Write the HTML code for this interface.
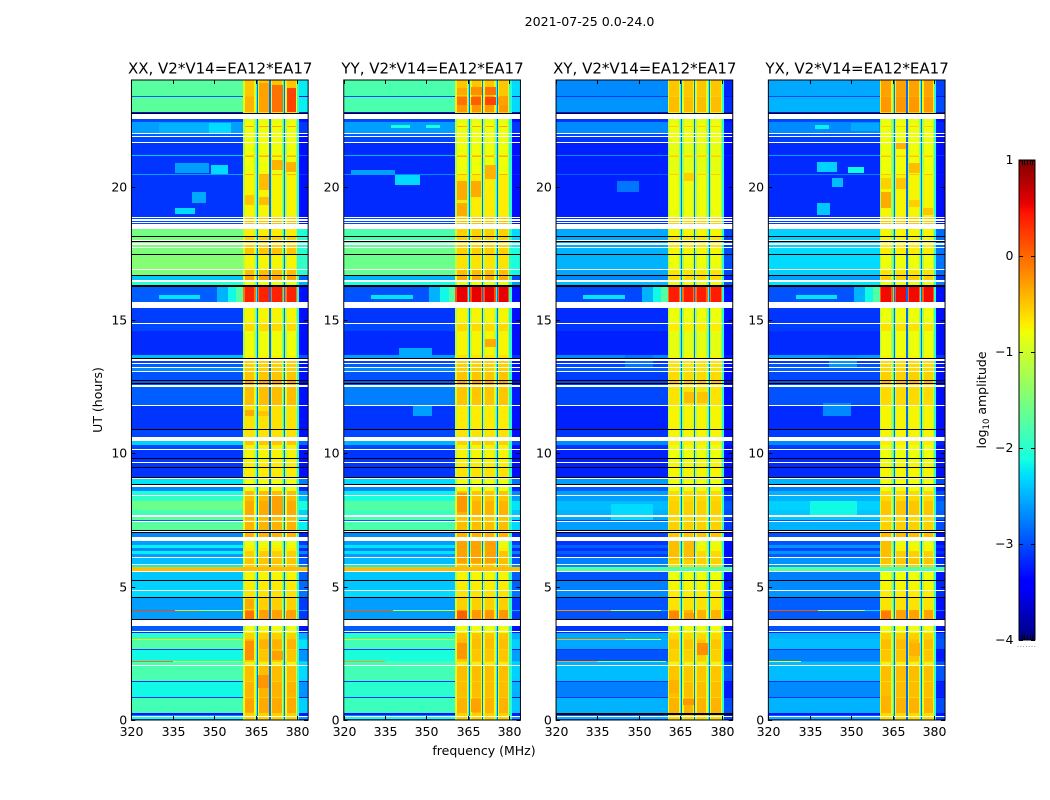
<!DOCTYPE html>
<html lang="en">
<head>
<meta charset="utf-8">
<title>2021-07-25 0.0-24.0</title>
<style>
html,body{margin:0;padding:0;background:#fff}
svg{display:block}
text{font-family:"DejaVu Sans","Liberation Sans",sans-serif;fill:#000}
</style>
</head>
<body>
<svg id="figure" xmlns="http://www.w3.org/2000/svg" width="1050" height="800" viewBox="0 0 1050 800">
  <text x="589.5" y="26" font-size="12.6" text-anchor="middle">2021-07-25 0.0-24.0</text>
  <text x="484" y="755" font-size="12.5" text-anchor="middle">frequency (MHz)</text>
  <text transform="translate(102 400) rotate(-90)" font-size="12.5" text-anchor="middle">UT (hours)</text>
  <text transform="translate(986 400) rotate(-90)" font-size="12.5" text-anchor="middle">log<tspan font-size="8.5" dy="3">10</tspan><tspan dy="-3"> amplitude</tspan></text>
  <g id="panels"></g>
  <g id="colorbar"></g>
</svg>
<script>
const W = null; // flagged, no data: paints white
const K = -9;   // below scale: paints black

const panelTitles = ['XX, V2*V14=EA12*EA17', 'YY, V2*V14=EA12*EA17', 'XY, V2*V14=EA12*EA17', 'YX, V2*V14=EA12*EA17'];
const freqTicks = [320, 335, 350, 365, 380];
const hourTicks = [0, 5, 10, 15, 20];
const colorTicks = [1, 0, -1, -2, -3, -4];

// upper hour of each time band; each band runs down to the next entry
const rowTop = [
24,23.4,23.363,22.8,22.763,22.725,22.538,22.425,22.275,22.238,
22.013,21.975,21.9,21.863,21.675,21.638,21.188,21.15,21.113,20.475,
20.438,18.863,18.825,18.788,18.713,18.675,18.638,18.6,18.413,18.15,
18.113,18,17.963,17.925,17.888,17.813,17.738,17.7,17.475,17.438,
16.913,16.875,16.688,16.65,16.5,16.425,16.313,16.238,15.675,15.45,
14.888,14.85,14.588,13.688,13.575,13.538,13.463,13.388,13.35,13.238,
13.2,13.088,13.05,12.75,12.713,12.638,12.6,12.563,12.488,11.813,
11.775,10.913,10.875,10.613,10.463,10.313,10.163,10.125,9.825,9.788,
9.675,9.638,9.488,9.45,9.113,9.075,9.038,8.85,8.813,8.738,
8.588,8.438,8.4,8.213,7.875,7.688,7.613,7.5,7.463,7.425,
7.125,7.088,7.05,7.013,6.863,6.713,6.563,6.45,6.338,6.225,
6.113,6.075,5.85,5.813,5.738,5.588,5.55,5.25,5.213,4.875,
4.838,4.613,4.575,4.125,4.088,3.788,3.75,3.525,3.338,3.3,
3.263,3.038,3,2.663,2.625,2.213,2.175,2.063,2.025,1.463,
1.425,.863,.825,.263,.188,.15,.113,.038];

// log10 amplitude of the out-of-band floor (320-360 MHz), per band
const xxFloor = [
-1.72,-2.8,-1.7,-3.2,K,W,-2.9,-2.6,-2.6,-2.6,
W,-2.8,W,-2.9,W,-3,-2.4,-3,-3,-2.6,
-3,W,-2.9,W,-2.9,W,-2.9,W,-1.55,K,
-1.5,W,K,-1.5,W,-1.5,W,-1.5,K,-1.45,
W,-1.5,K,-2.4,W,-2,K,-2.8,W,-2.95,
W,-2.9,-3.05,-2.45,K,W,-2.9,W,-2.8,W,
-2.7,W,-2.85,K,-2.8,K,-2.8,W,-2.8,W,
-3,K,-2.9,W,-2.35,-2.9,W,-3,K,-3,
W,-3,K,-3,K,W,-2.25,K,W,-2.7,
-2.1,W,-1.95,-1.6,-1.85,W,-1.7,-2.8,W,-1.7,
K,W,K,-2.7,W,-2.6,-2.2,-2.7,-2.2,-2.6,
W,-2.45,W,-2.2,-.45,W,-2.4,K,-2.35,W,
-2.3,K,-2.6,-2,-2.6,K,W,-2.8,W,-3.1,
-2,-1.9,-1.75,-3,-2.15,-1.9,-1.8,W,-1.8,-3,
-2.15,-3,-1.85,-3.2,-2.7,W,-2.1,-2.8];
const yyFloor = [
-1.8,-2.9,-1.8,-3.2,K,W,-2.9,-2.6,-2.6,-2.6,
W,-2.8,W,-2.9,W,-3.05,-2.5,-3.05,-3.05,-2.7,
-3.05,W,-2.9,W,-2.9,W,-2.9,W,-1.8,K,
-1.8,W,K,-1.7,W,-1.7,W,-1.6,K,-1.6,
W,-1.65,K,-2.5,W,-2.1,K,-2.85,W,-3,
W,-2.9,-3.05,-2.6,K,W,-2.9,W,-2.8,W,
-2.7,W,-2.85,K,-2.8,K,-2.8,W,-2.75,W,
-3,K,-2.9,W,-2.5,-2.9,W,-3,K,-3,
W,-3,K,-3,K,W,-2.3,K,W,-2.7,
-2.2,W,-2.1,-1.75,-1.9,W,-1.8,-2.8,W,-1.8,
K,W,K,-2.7,W,-2.6,-2.25,-2.7,-2.25,-2.6,
W,-2.45,W,-2.2,-.45,W,-2.4,K,-2.4,W,
-2.3,K,-2.6,-2,-2.6,K,W,-2.8,W,-3.1,
-2,-1.9,-1.85,-3,-2.1,-1.9,-1.85,W,-1.85,-3,
-2,-3,-1.9,-3.2,-2.7,W,-2.1,-2.8];
const xyFloor = [
-2.7,-3,-2.65,-3.2,K,W,-3,-2.7,-2.7,-2.7,
W,-2.9,W,-3,W,-3.1,-2.7,-3.1,-3.1,-2.8,
-3.1,W,-3,W,-3,W,-3,W,-2.55,K,
-2.55,W,K,-2.55,W,-2.55,W,-2.5,K,-2.5,
W,-2.55,K,-2.7,W,-2.45,K,-2.9,W,-3.05,
W,-3,-3.1,-2.7,K,W,-3,W,-2.9,W,
-2.8,W,-2.95,K,-2.9,K,-2.9,W,-2.9,W,
-3.1,K,-3,W,-2.7,-3,W,-3.1,K,-3.1,
W,-3.1,K,-3.1,K,W,-2.6,K,W,-2.8,
-2.6,W,-2.6,-2.45,-2.5,W,-2.55,-2.9,W,-2.6,
K,W,K,-2.9,W,-3,-2.8,-3,-2.8,-2.95,
W,-2.75,W,-2.7,-1.75,W,-2.85,K,-2.75,W,
-2.7,K,-2.85,-2.5,-2.85,K,W,-3,W,-3.1,
-2.55,-2.5,-2.55,-3,-2.85,-2.7,-2.5,W,-2.45,-3,
-2.75,-3,-2.5,K,-2.8,W,-2.5,-2.9];
const yxFloor = [
-2.55,-2.9,-2.5,-3.2,K,W,-2.9,-2.7,-2.7,-2.7,
W,-2.85,W,-2.95,W,-3.05,-2.6,-3.05,-3.05,-2.75,
-3.05,W,-2.95,W,-2.95,W,-2.95,W,-2.35,K,
-2.35,W,K,-2.35,W,-2.35,W,-2.3,K,-2.3,
W,-2.35,K,-2.6,W,-2.25,K,-2.85,W,-3,
W,-2.95,-3.05,-2.6,K,W,-2.95,W,-2.85,W,
-2.8,W,-2.9,K,-2.85,K,-2.85,W,-2.85,W,
-3.05,K,-2.95,W,-2.7,-2.95,W,-3.05,K,-3.05,
W,-3.05,K,-3.05,K,W,-2.5,K,W,-2.75,
-2.5,W,-2.5,-2.35,-2.4,W,-2.4,-2.85,W,-2.5,
K,W,K,-2.85,W,-2.85,-2.65,-2.9,-2.65,-2.8,
W,-2.65,W,-2.6,-1.75,W,-2.75,K,-2.7,W,
-2.65,K,-2.8,-2.3,-2.8,K,W,-2.85,W,-3.1,
-2.5,-2.45,-2.45,-3,-2.75,-2.6,-2.45,W,-2.45,-3,
-2.7,-3,-2.5,-3.2,-2.8,W,-2.5,-2.85];

// log10 amplitude inside the four passband blocks, per band
const xxBlock = [
-.55,-.5,-.45,-.7,K,W,-.9,-.85,-.4,-.85,
W,-.85,W,-.85,W,-.85,-.6,-.45,-.85,-.45,
-.8,W,-.5,W,-.5,W,-.5,W,-.75,K,
-.6,W,K,-.6,W,-.6,W,-.55,K,-.8,
W,-.5,K,-.35,W,-.9,K,.32,W,-.8,
W,-.65,-.85,-.8,K,W,-.6,W,-.6,W,
-.6,W,-.55,K,-.35,K,-.5,W,-.5,W,
-.7,K,-.7,W,-.55,-.8,W,-.8,K,-.8,
W,-.75,K,-.75,K,W,-.85,K,W,-.85,
-.5,W,-.5,-.4,-.4,W,-.5,-.6,W,-.45,
K,W,K,-.45,W,-.9,-.8,-.75,-.6,-.6,
W,-.55,W,-.6,-.45,W,-.8,K,-.75,W,
-.7,K,-.6,-.35,-.35,K,W,-.85,W,-.85,
-.6,-.5,-.45,-.6,-.55,-.6,-.8,W,-.5,-.6,
-.45,-.6,-.4,-.6,-.6,W,-.6,-.6];
const yyBlock = [
-.55,-.35,-.3,-.6,K,W,-.9,-.85,-.4,-.85,
W,-.85,W,-.85,W,-.85,-.6,-.45,-.85,-.45,
-.75,W,-.5,W,-.5,W,-.5,W,-.6,K,
-.6,W,K,-.6,W,-.6,W,-.6,K,-.7,
W,-.5,K,-.4,W,-.9,K,.5,W,-.8,
W,-.65,-.8,-.7,K,W,-.6,W,-.6,W,
-.6,W,-.55,K,-.35,K,-.5,W,-.55,W,
-.75,K,-.7,W,-.6,-.8,W,-.8,K,-.8,
W,-.75,K,-.7,K,W,-.85,K,W,-.85,
-.55,W,-.55,-.45,-.45,W,-.55,-.6,W,-.5,
K,W,K,-.45,W,-.9,-.8,-.75,-.55,-.55,
W,-.5,W,-.55,-.45,W,-.8,K,-.75,W,
-.7,K,-.6,-.3,-.3,K,W,-.85,W,-.85,
-.55,-.5,-.5,-.6,-.55,-.6,-.75,W,-.5,-.6,
-.5,-.6,-.45,-.6,-.6,W,-.6,-.6];
const xyBlock = [
-.55,-.6,-.5,-.8,K,W,-.9,-.85,-.6,-.85,
W,-.85,W,-.85,W,-.9,-.7,-.6,-.9,-.6,
-.85,W,-.6,W,-.6,W,-.6,W,-.8,K,
-.7,W,K,-.7,W,-.7,W,-.8,K,-.85,
W,-.7,K,-.65,W,-.9,K,.35,W,-.85,
W,-.75,-.9,-.8,K,W,-.7,W,-.7,W,
-.7,W,-.65,K,-.5,K,-.7,W,-.7,W,
-.8,K,-.8,W,-.75,-.85,W,-.85,K,-.85,
W,-.8,K,-.8,K,W,-.85,K,W,-.85,
-.65,W,-.65,-.6,-.6,W,-.65,-.7,W,-.6,
K,W,K,-.55,W,-.9,-.8,-.8,-.65,-.65,
W,-.6,W,-.65,-1.75,W,-.85,K,-.8,W,
-.75,K,-.7,-.45,-.45,K,W,-.85,W,-.85,
-.65,-.6,-.55,-.65,-.6,-.65,-.8,W,-.55,-.65,
-.5,-.65,-.45,-.65,-.65,W,-.65,-.65];
const yxBlock = [
-.35,-.4,-.3,-.6,K,W,-.9,-.85,-.6,-.85,
W,-.85,W,-.85,W,-.85,-.7,-.55,-.85,-.55,
-.8,W,-.55,W,-.55,W,-.55,W,-.8,K,
-.8,W,K,-.75,W,-.75,W,-.75,K,-.85,
W,-.7,K,-.6,W,-.9,K,.45,W,-.85,
W,-.7,-.85,-.8,K,W,-.65,W,-.65,W,
-.65,W,-.6,K,-.45,K,-.65,W,-.65,W,
-.8,K,-.8,W,-.75,-.85,W,-.85,K,-.85,
W,-.8,K,-.8,K,W,-.85,K,W,-.85,
-.65,W,-.65,-.55,-.55,W,-.65,-.7,W,-.6,
K,W,K,-.5,W,-.9,-.8,-.8,-.6,-.6,
W,-.55,W,-.6,-1.75,W,-.85,K,-.8,W,
-.75,K,-.7,-.35,-.35,K,W,-.85,W,-.85,
-.6,-.55,-.5,-.65,-.55,-.6,-.8,W,-.5,-.65,
-.5,-.65,-.45,-.65,-.65,W,-.65,-.65];

// frequency channels in MHz and the spectral response in each
const spectrumEdges = [320,360.5,361,364.5,365,365.4,365.8,366.3,369.7,370,370.5,371,374.5,375,375.4,375.8,376.3,379.6,380,380.8,384];
const spectrumKinds = ['floor','edge','block','edge','rim','gap','edge','block','edge','gap','edge','block','edge','rim','gap','edge','block','edge','rim','tail'];
const gapLevel = -2.85;
const rimLevel = -2.0;
const edgeDrop = 0.4;
const blockLift = 0.05;
const blueFloorShift = -0.12;
const blueFloorLimit = -2.8;

// localised features: hour low, hour high, MHz low, MHz high, log10 amplitude
const sharedFeatures = [
[15.675,16.238,351,355,-2.5],[15.675,16.238,355,358,-2.15],[15.675,16.238,358,360.5,-1.75],
[15.8,15.95,330,345,-2.25]];
const xxFeatures = [
[22.8,23.8,371,375,-.05],[22.8,23.7,376.2,379.6,.2],[22.8,23.9,366.2,369.8,-.3],
[22.025,22.4,330,348,-2.5],[22.025,22.4,348,356,-2.3],
[20.51,20.89,336,348,-2.6],[20.48,20.81,349,355,-2.3],[18.97,19.2,336,343,-2.3],[19.39,19.8,342,347,-2.55],
[20.63,21,371,375,-.4],[20.55,20.93,376,379.6,-.4],[19.88,20.43,366.2,369.8,-.45],
[19.31,19.69,361,364.5,-.5],[19.31,19.6,366.2,369.8,-.45],[11.4,11.63,361,364.5,-.35],[11.4,11.6,366,370,-.5],
[7.7,8.4,371,375,-.3],[2.25,2.96,361,364.5,-.2],[2.25,2.6,371,375,-.3],[1.2,1.7,366,370,-.25],[.3,.75,361,364.5,-.3],
[3.79,4.09,361,364.5,-.05],[3.79,4.09,376,379.6,-.3],[4.15,4.55,361,364.5,-.35],
[4.088,4.125,320,336,.2],[4.088,4.125,336,345,-.6],[4.088,4.125,345,360,-1.3],
[3,3.038,320,360,-.75],[2.175,2.213,320,335,-.05],[2.175,2.213,335,360,-1.1]];
const yyFeatures = [
[23.06,23.36,361,364.5,-.05],[23.06,23.36,366.2,369.8,.05],[23.06,23.36,371,375,.2],[23.06,23.36,376,379.6,-.3],
[23.45,23.7,361,364.5,-.35],[23.45,23.75,366,370,-.2],[23.45,23.75,371,375,-.05],
[22.2,22.3,337,344,-2.1],[22.2,22.3,350,355,-2.1],
[20.06,20.44,338.6,347.7,-2.3],[20.44,20.63,322.6,338.6,-2.6],[13.55,13.95,340,352,-2.55],[11.4,11.8,345,352,-2.6],
[19.5,20.2,361,364.5,-.35],[19.6,20.2,366.2,369.8,-.35],[20.3,20.8,371,375,-.4],[18.9,19.4,361,364.5,-.35],
[14.0,14.3,371,375,-.35],[5.9,6.7,361,364.5,-.3],[5.9,6.7,366.2,369.8,-.3],[5.9,6.7,371,375,-.3],
[3.79,4.09,361,364.5,.05],[7.8,8.5,361,364.5,-.25],[2.3,2.9,361,364.5,-.25],[.3,.8,366.2,369.8,-.3],
[4.088,4.125,320,338,.1],[4.088,4.125,338,360,-1.1],[3,3.038,320,360,-.9],[2.175,2.213,320,335,-.3]];
const xyFeatures = [
[19.8,20.2,342,350,-2.8],[13.2,13.7,345,355,-2.8],
[11.9,12.3,366.2,369.8,-.45],[11.9,12.3,371,375,-.5],[20.2,20.5,366.2,369.8,-.55],
[3.79,4.09,361,364.5,-.15],[3.79,4.0,366.2,369.8,-.3],[6,6.7,361,364.5,-.45],[6,6.7,366.2,369.8,-.45],
[2.45,2.9,371,375,-.2],[1.0,1.5,361,364.5,-.4],[.55,.8,366,370,-.25],
[4.088,4.125,320,340,-.2],[4.088,4.125,340,358,-1],[3,3.038,320,345,-.4],[3,3.038,345,358,-1],
[2.175,2.213,320,335,-.3],[2.175,2.213,335,360,-1.2],[7.5,8.1,340,355,-2.3]];
const yxFeatures = [
[20.55,20.93,337.7,345,-2.35],[20.51,20.74,349,354.6,-2.15],[19.99,20.33,343,347,-2.45],[18.94,19.39,337.7,342.4,-2.4],
[22.15,22.3,337,342,-2.2],[22.1,22.4,350,360,-2.55],
[13.2,13.7,342,352,-2.65],[11.4,11.9,340,350,-2.7],[7.6,8.2,335,352,-2.15],
[19.2,19.8,361,364.5,-.35],[19.9,20.32,361,364.5,-.55],[21.4,21.65,366.2,369.8,-.4],[19.9,20.32,366.2,369.8,-.5],
[20.5,20.9,371,375,-.45],[19.25,19.5,371,375,-.55],[18.95,19.2,376,379.6,-.5],
[3.79,4.09,361,364.5,-.1],[6,6.7,361,364.5,-.45],[2.4,2.9,371,375,-.4],[.4,.9,361,364.5,-.4],
[4.088,4.125,320,338,.15],[4.088,4.125,338,355,-1],[2.175,2.213,320,332,-.8]];

const floors = [xxFloor, yyFloor, xyFloor, yxFloor];
const blocks = [xxBlock, yyBlock, xyBlock, yxBlock];
const features = [xxFeatures, yyFeatures, xyFeatures, yxFeatures];

const SVGNS = 'http://www.w3.org/2000/svg';
const AX_W = 176.9, AX_PITCH = 212.3, AX_LEFT = 131.25, AX_TOP = 80, AX_BOTTOM = 720;
const CB_X0 = 1019, CB_X1 = 1035, CB_Y0 = 160, CB_Y1 = 640;

function xScale(panel, mhz) { return Math.round(AX_LEFT + panel * AX_PITCH + (mhz - 320) * AX_W / 64); }
function yScale(hour) { return Math.round(AX_BOTTOM - hour * (AX_BOTTOM - AX_TOP) / 24); }
function cbScale(level) { return CB_Y1 - (level + 4) * (CB_Y1 - CB_Y0) / 5; }

function ramp(v, pts) {
  if (v <= pts[0][0]) return pts[0][1];
  for (let i = 1; i < pts.length; i++) {
    if (v <= pts[i][0]) {
      const t = (v - pts[i-1][0]) / (pts[i][0] - pts[i-1][0]);
      return pts[i-1][1] + t * (pts[i][1] - pts[i-1][1]);
    }
  }
  return pts[pts.length-1][1];
}
function jet(level) {
  if (level < -4.5) return '#000';
  const v = Math.max(0, Math.min(1, (level + 4) / 5));
  const r = ramp(v, [[0,0],[.35,0],[.66,1],[.89,1],[1,.5]]);
  const g = ramp(v, [[0,0],[.125,0],[.375,1],[.64,1],[.91,0],[1,0]]);
  const b = ramp(v, [[0,.5],[.11,1],[.34,1],[.65,0],[1,0]]);
  return 'rgb(' + Math.round(r*255) + ',' + Math.round(g*255) + ',' + Math.round(b*255) + ')';
}
function channelLevel(kind, floorRaw, block) {
  const floor = floorRaw <= blueFloorLimit ? floorRaw + blueFloorShift : floorRaw;
  if (floorRaw === block) return floor;
  if (kind === 'floor') return floor;
  if (kind === 'block') return block + blockLift;
  if (kind === 'edge') return block - edgeDrop;
  if (kind === 'rim') return rimLevel;
  if (kind === 'gap') return gapLevel;
  return Math.max(-3.3, floor - 0.5);
}
function shape(tag, parent, attrs) {
  const el = document.createElementNS(SVGNS, tag);
  for (const k in attrs) el.setAttribute(k, attrs[k]);
  parent.appendChild(el);
  return el;
}
function rowBottom(i) { return i + 1 < rowTop.length ? rowTop[i + 1] : 0; }

const panelsGroup = document.getElementById('panels');

panelTitles.forEach(function (title, p) {
  const g = shape('g', panelsGroup, {});
  
  

  const heat = shape('g', g, {'shape-rendering': 'crispEdges'});
  
  

  const floor = floors[p], block = blocks[p];
  rowTop.forEach(function (top, r) {
    const y0 = yScale(top), y1 = yScale(rowBottom(r));
    if (floor[r] === W) return;
    if (floor[r] === K) {
      const line = shape('rect', heat, {x: xScale(p, 320), y: y0, width: xScale(p, 384) - xScale(p, 320), height: y1 - y0, fill: jet(K)});
      
      
      return;
    }
    spectrumKinds.forEach(function (kind, c) {
      const x0 = xScale(p, spectrumEdges[c]), x1 = xScale(p, spectrumEdges[c + 1]);
      if (x1 <= x0) return;
      const cell = shape('rect', heat, {x: x0, y: y0, width: x1 - x0, height: y1 - y0, fill: jet(channelLevel(kind, floor[r], block[r]))});
      
      
    });
    sharedFeatures.concat(features[p]).forEach(function (f) {
      const lo = Math.max(f[0], rowBottom(r)), hi = Math.min(f[1], top);
      if (hi <= lo) return;
      const fy0 = yScale(hi), fy1 = yScale(lo);
      if (fy1 <= fy0) return;
      const patch = shape('rect', heat, {x: xScale(p, f[2]), y: fy0, width: xScale(p, f[3]) - xScale(p, f[2]), height: fy1 - fy0, fill: jet(f[4])});
      
      
    });
  });

  const left = AX_LEFT + p * AX_PITCH, right = left + AX_W;
  const frame = shape('rect', g, {x: left + 0.2, y: AX_TOP, width: AX_W - 0.2, height: AX_BOTTOM - AX_TOP, fill: 'none', stroke: '#000', 'stroke-width': 1});
  
  

  const titleEl = shape('text', g, {x: left + AX_W / 2 + 0.5, y: 73.5, 'font-size': 15, 'text-anchor': 'middle'});
  titleEl.textContent = title;
  
  

  freqTicks.forEach(function (t) {
    const x = xScale(p, t) + 0.5;
    const tickA = shape('line', g, {x1: x, x2: x, y1: AX_BOTTOM, y2: AX_BOTTOM - 4, stroke: '#000', 'stroke-width': 1});
    
    
    const tickB = shape('line', g, {x1: x, x2: x, y1: AX_TOP, y2: AX_TOP + 4, stroke: '#000', 'stroke-width': 1});
    
    
    const label = shape('text', g, {x: x, y: 736, 'font-size': 12.5, 'text-anchor': 'middle'});
    label.textContent = t;
    
    
  });
  hourTicks.forEach(function (t) {
    const y = yScale(t) + 0.5;
    const tickA = shape('line', g, {x1: left, x2: left + 4, y1: y, y2: y, stroke: '#000', 'stroke-width': 1});
    
    
    const tickB = shape('line', g, {x1: right, x2: right - 4, y1: y, y2: y, stroke: '#000', 'stroke-width': 1});
    
    
    const label = shape('text', g, {x: left - 4, y: y + 4, 'font-size': 12.5, 'text-anchor': 'end'});
    label.textContent = t;
    
    
  });
});

const cb = document.getElementById('colorbar');
const cbRamp = shape('g', cb, {'shape-rendering': 'crispEdges'});


for (let py = CB_Y0; py < CB_Y1; py += 2) {
  const level = -4 + (CB_Y1 - py - 1) * 5 / (CB_Y1 - CB_Y0);
  const band = shape('rect', cbRamp, {x: CB_X0, y: py, width: CB_X1 - CB_X0, height: 2, fill: jet(level)});
  
  
}
const cbFrame = shape('rect', cb, {x: CB_X0, y: CB_Y0, width: CB_X1 - CB_X0, height: CB_Y1 - CB_Y0, fill: 'none', stroke: '#000', 'stroke-width': 1});


colorTicks.forEach(function (t) {
  const y = Math.round(cbScale(t)) + 0.5;
  const tickA = shape('line', cb, {x1: CB_X0, x2: CB_X0 + 4, y1: y, y2: y, stroke: '#000', 'stroke-width': 1});
  
  
  const tickB = shape('line', cb, {x1: CB_X1, x2: CB_X1 - 4, y1: y, y2: y, stroke: '#000', 'stroke-width': 1});
  
  
  const label = shape('text', cb, {x: 1013.5, y: y + 3.5, 'font-size': 12.5, 'text-anchor': 'end'});
  label.textContent = t < 0 ? '\u2212' + Math.abs(t) : String(t);
  
  
});
for (let i = 1; i < 6; i++) {
  const x = Math.round(CB_X0 + i * (CB_X1 - CB_X0) / 6) + 0.5;
  const top = shape('line', cb, {x1: x, x2: x, y1: CB_Y0, y2: CB_Y0 + 5, stroke: '#000', 'stroke-width': 1});
  
  
  const bottom = shape('line', cb, {x1: x, x2: x, y1: CB_Y1, y2: CB_Y1 - 5, stroke: '#000', 'stroke-width': 1});
  
  
}
for (let i = 0; i < 7; i++) {
  const dot = shape('rect', cb, {x: 1017.5 + i * 2.8, y: 646, width: 1, height: 1, fill: '#999'});
  
  
}
</script>
</body>
</html>
